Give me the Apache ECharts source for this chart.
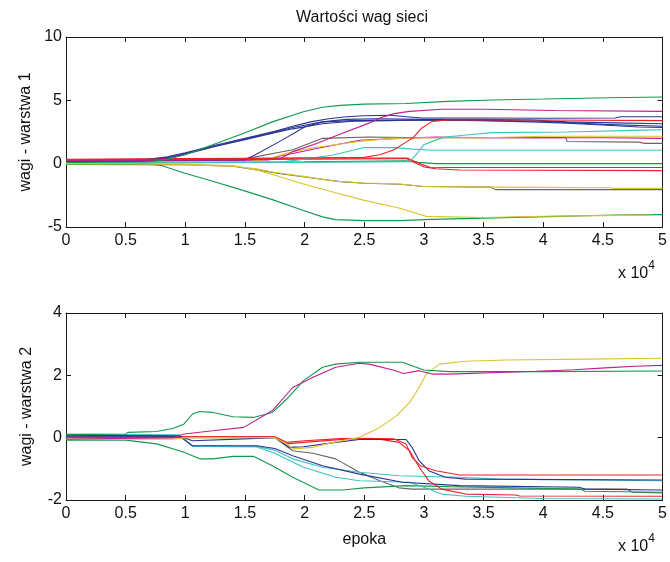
<!DOCTYPE html>
<html><head><meta charset="utf-8">
<script src="https://cdn.jsdelivr.net/npm/echarts/dist/echarts.min.js"></script>
<style>html,body{margin:0;padding:0;background:#fff}#c{width:670px;height:562px}</style>
</head><body><div id="c"></div>
<script>
// x values are in units of 10^4 epochs
const xRange = [0, 5, 0.5];
const y1Range = [-5, 10, 5];
const y2Range = [-2, 4, 2];

// ---- Layer 1 weights ----
const w1_greenUp = [[0,0.1],[0.7,0.15],[0.85,0.35],[1.0,0.7],[1.23,1.5],[1.49,2.4],[1.73,3.3],[1.99,4.1],[2.15,4.45],[2.3,4.6],[2.5,4.7],[2.85,4.75],[3.2,4.92],[3.57,5.03],[4.0,5.1],[4.55,5.2],[5,5.26]];
const w1_magentaUp = [[0,0.25],[1.5,0.3],[1.79,0.35],[1.9,0.95],[2.1,1.6],[2.29,2.3],[2.54,3.2],[2.63,3.6],[2.75,3.95],[2.88,4.13],[3.15,4.3],[3.5,4.3],[4.09,4.2],[5,4.13]];
const w1_blueA = [[0,0.2],[0.6,0.25],[0.85,0.55],[1.0,0.85],[1.25,1.45],[1.5,2.0],[1.75,2.55],[1.9,2.95],[2.05,3.3],[2.2,3.55],[2.35,3.7],[2.5,3.78],[2.71,3.82],[2.98,3.6],[3.5,3.6],[4.0,3.58],[4.6,3.6],[4.65,3.7],[5,3.7]];
const w1_blueB = [[0,0.15],[0.6,0.2],[0.85,0.5],[1.0,0.8],[1.25,1.4],[1.5,1.95],[1.75,2.5],[1.9,2.85],[2.15,3.3],[2.35,3.5],[2.6,3.55],[3.0,3.5],[3.5,3.5],[3.9,3.45],[4.2,3.3],[4.6,3.22],[5,3.15]];
const w1_blueC = [[0,0.18],[0.65,0.2],[0.85,0.45],[1.0,0.75],[1.25,1.35],[1.5,1.9],[1.75,2.45],[1.9,2.75],[2.15,3.15],[2.4,3.35],[2.7,3.4],[3.0,3.45],[3.5,3.4],[3.9,3.3],[4.2,3.2],[4.5,3.05],[4.8,2.9],[5,2.85]];
const w1_blueD = [[0,0.2],[1.5,0.3],[1.58,0.66],[1.8,1.8],[2.0,2.9],[2.15,3.3],[2.4,3.4],[3.0,3.45],[3.6,3.4],[4.0,3.35],[4.5,3.1],[5,2.95]];
const w1_redUp = [[0,0.3],[1.5,0.4],[2.0,0.45],[2.5,0.5],[2.63,0.7],[2.75,1.1],[2.85,1.7],[2.91,2.05],[2.98,2.8],[3.07,3.34],[3.2,3.45],[4.0,3.45],[5,3.4]];
const w1_cyanB = [[0,0.05],[2.0,0.1],[2.88,0.15],[2.95,0.9],[3.0,1.5],[3.08,1.8],[3.18,2.1],[3.4,2.3],[3.57,2.45],[4.2,2.5],[4.83,2.65],[5,2.68]];
const w1_yellowUp = [[0,0.0],[1.5,0.1],[1.7,0.4],[1.9,0.95],[2.1,1.3],[2.3,1.55],[2.5,1.8],[2.75,2.0],[3.0,2.05],[3.5,2.05],[4.0,2.16],[5,2.17]];
const w1_magentaB = [[0,0.15],[1.7,0.3],[1.79,0.58],[2.1,1.2],[2.46,1.85],[2.8,2.0],[3.1,2.1],[3.5,2.05],[4.5,2.05],[5,2.0]];
const w1_grayUp = [[0,0.1],[1.51,0.4],[1.9,1.1],[2.15,2.0],[2.54,2.1],[3.0,2.05],[4.19,2.05],[4.2,1.75],[4.8,1.7],[4.85,1.6],[5,1.6]];
const w1_cyanA = [[0,0.1],[1.8,0.12],[1.95,0.3],[2.23,0.66],[2.5,1.27],[2.76,1.27],[2.9,1.15],[3.08,1.06],[5,1.06]];
const w1_greenFlat = [[0,0.0],[1.0,0.1],[2.0,0.15],[2.85,0.22],[2.95,0.1],[3.1,0.0],[5,0.0]];
const w1_redDownA = [[0,0.35],[1.0,0.4],[2.0,0.45],[2.86,0.45],[2.92,0.2],[2.98,-0.05],[3.05,-0.28],[3.2,-0.3],[5,-0.3]];
const w1_redDownB = [[0,0.25],[2.85,0.4],[2.92,0.1],[3.0,-0.25],[3.1,-0.4],[3.3,-0.5],[5,-0.55]];
const w1_yellowMid = [[0,-0.05],[0.4,-0.1],[1.0,-0.1],[1.4,-0.2],[1.6,-0.4],[1.73,-0.66],[1.99,-1.0],[2.26,-1.39],[2.5,-1.53],[2.8,-1.6],[3.0,-1.8],[3.6,-1.85],[4.55,-1.9],[4.6,-1.95],[5,-1.95]];
const w1_grayMid = [[0,-0.05],[1.0,-0.08],[1.4,-0.2],[1.6,-0.5],[1.8,-0.8],[2.0,-1.05],[2.3,-1.42],[2.5,-1.55],[2.8,-1.62],[3.0,-1.8],[3.56,-1.85],[3.6,-2.05],[5,-2.05]];
const w1_greenDown = [[0,-0.05],[0.7,-0.05],[0.8,-0.15],[0.99,-0.74],[1.23,-1.39],[1.49,-2.13],[1.73,-2.84],[1.99,-3.7],[2.15,-4.2],[2.26,-4.42],[2.5,-4.5],[2.8,-4.5],[3.06,-4.4],[3.5,-4.3],[4.03,-4.18],[4.6,-4.05],[5,-4.02]];
const w1_yellowDown = [[0,0.0],[1.0,-0.05],[1.4,-0.15],[1.6,-0.5],[1.73,-0.85],[1.99,-1.6],[2.26,-2.3],[2.5,-2.9],[2.79,-3.5],[3.02,-4.16],[3.5,-4.25],[4.0,-4.15],[4.5,-4.1],[4.9,-4.05]];

// ---- Layer 2 weights ----
const w2_greenA = [[0,0.1],[0.5,0.12],[0.52,0.17],[0.76,0.2],[0.9,0.3],[0.99,0.44],[1.06,0.76],[1.12,0.84],[1.23,0.81],[1.4,0.67],[1.57,0.65],[1.73,0.81],[1.85,1.24],[1.99,1.83],[2.15,2.26],[2.26,2.36],[2.46,2.42],[2.82,2.42],[2.9,2.31],[3.0,2.17],[3.21,2.12],[4.0,2.12],[5,2.14]];
const w2_magenta = [[0,-0.05],[0.9,0.0],[0.99,0.12],[1.23,0.22],[1.49,0.33],[1.73,0.87],[1.9,1.61],[2.07,1.94],[2.26,2.26],[2.46,2.39],[2.54,2.36],[2.74,2.17],[2.83,2.06],[2.96,2.15],[3.07,2.04],[3.21,2.04],[3.94,2.13],[4.26,2.18],[4.52,2.24],[4.77,2.29],[5,2.32]];
const w2_yellow = [[0,-0.05],[0.9,-0.05],[1.0,0.0],[1.75,0.0],[1.85,-0.2],[1.9,-0.36],[2.07,-0.31],[2.24,-0.15],[2.46,0.01],[2.63,0.33],[2.77,0.7],[2.88,1.13],[2.96,1.61],[3.02,2.04],[3.13,2.36],[3.35,2.45],[3.69,2.49],[4.35,2.52],[5,2.55]];
const w2_redA = [[0,0.0],[0.95,0.0],[1.0,0.03],[1.75,0.03],[1.85,-0.2],[1.99,-0.15],[2.26,-0.07],[2.5,-0.02],[2.75,-0.04],[2.85,-0.2],[2.9,-0.63],[2.97,-0.9],[3.1,-1.06],[3.3,-1.2],[5,-1.2]];
const w2_redB = [[0,0.02],[1.0,0.03],[1.75,0.03],[1.85,-0.15],[2.0,-0.1],[2.3,-0.03],[2.6,-0.03],[2.79,-0.15],[2.88,-0.42],[2.96,-0.95],[3.04,-1.38],[3.15,-1.65],[3.35,-1.81],[3.77,-1.84],[3.8,-1.87],[5,-1.88]];
const w2_blueA = [[0,0.05],[0.95,0.05],[1.06,-0.1],[1.49,-0.04],[1.75,0.0],[1.87,-0.31],[1.99,-0.29],[2.26,-0.15],[2.46,-0.06],[2.85,-0.06],[2.9,-0.31],[2.96,-0.74],[3.04,-1.06],[3.18,-1.27],[3.35,-1.33],[5,-1.36]];
const w2_blueB = [[0,0.08],[0.95,0.05],[1.06,-0.26],[1.6,-0.26],[1.75,-0.35],[1.9,-0.58],[2.15,-0.9],[2.46,-1.17],[2.82,-1.43],[3.3,-1.54],[4.3,-1.59],[4.35,-1.65],[5,-1.68]];
const w2_gray = [[0,0.0],[1.0,0.0],[1.75,0.0],[1.9,-0.42],[2.07,-0.5],[2.26,-0.68],[2.46,-1.11],[2.63,-1.38],[2.79,-1.61],[2.9,-1.65],[4.7,-1.65],[4.75,-1.75],[5,-1.77]];
const w2_cyanA = [[0,0.1],[0.95,0.08],[1.06,-0.26],[1.6,-0.28],[1.75,-0.4],[1.9,-0.68],[2.15,-0.95],[2.46,-1.11],[2.79,-1.22],[3.3,-1.27],[3.63,-1.33],[5,-1.38]];
const w2_cyanB = [[0,0.12],[0.95,0.08],[1.06,-0.28],[1.6,-0.3],[1.75,-0.5],[1.99,-0.95],[2.26,-1.27],[2.46,-1.38],[2.88,-1.43],[3.0,-1.59],[3.15,-1.81],[3.35,-1.88],[4.0,-1.95],[5,-1.97]];
const w2_greenB = [[0,-0.08],[0.5,-0.08],[0.76,-0.2],[0.99,-0.47],[1.12,-0.68],[1.23,-0.68],[1.4,-0.6],[1.57,-0.6],[1.73,-0.9],[1.9,-1.27],[2.12,-1.68],[2.32,-1.68],[2.5,-1.61],[2.85,-1.54],[3.21,-1.57],[4.31,-1.65],[4.35,-1.72],[5,-1.75]];

const C = {green:'#119a4c', blue:'#2a3592', red:'#ec2228', cyan:'#3cc3c3', magenta:'#c01f92', yellow:'#d9c52c', gray:'#666666'};

const layer1 = [
  [w1_greenFlat,'green'],[w1_redDownA,'red'],[w1_redDownB,'red'],[w1_cyanA,'cyan'],[w1_grayUp,'gray'],
  [w1_magentaB,'magenta'],[w1_yellowUp,'yellow'],[w1_cyanB,'cyan'],[w1_blueD,'blue'],[w1_blueC,'blue'],
  [w1_blueB,'blue'],[w1_blueA,'blue'],[w1_redUp,'red'],[w1_magentaUp,'magenta'],[w1_greenUp,'green'],
  [w1_grayMid,'gray'],[w1_yellowMid,'yellow'],[w1_greenDown,'green'],[w1_yellowDown,'yellow']
];
const layer2 = [
  [w2_gray,'gray'],[w2_greenB,'green'],[w2_cyanA,'cyan'],[w2_cyanB,'cyan'],[w2_blueB,'blue'],
  [w2_redB,'red'],[w2_blueA,'blue'],[w2_redA,'red'],[w2_yellow,'yellow'],[w2_greenA,'green'],[w2_magenta,'magenta']
];

const FONT = 'Liberation Sans, Arial, sans-serif';
const FS = 16;
const axisLine = {show:true, onZero:false, lineStyle:{color:'#1a1a1a', width:1}};
const tick = {show:true, inside:true, length:5, lineStyle:{color:'#1a1a1a', width:1}};

function xAx(g, pos, labels, name) {
  return {gridIndex:g, type:'value', position:pos, min:xRange[0], max:xRange[1], interval:xRange[2],
    axisLine, axisTick:tick, splitLine:{show:false},
    axisLabel:{show:labels, color:'#111', fontSize:FS, fontFamily:FONT, margin:6},
    name: name||'', nameLocation:'middle', nameGap:32,
    nameTextStyle:{color:'#111', fontSize:FS, fontFamily:FONT}};
}
function yAx(g, pos, r, labels, name) {
  return {gridIndex:g, type:'value', position:pos, min:r[0], max:r[1], interval:r[2],
    axisLine, axisTick:tick, splitLine:{show:false},
    axisLabel:{show:labels, color:'#111', fontSize:FS, fontFamily:FONT, margin:4},
    name: name||'', nameLocation:'middle', nameGap:31, nameRotate:90,
    nameTextStyle:{color:'#111', fontSize:FS, fontFamily:FONT}};
}

const series = [];
layer1.forEach(([d,c]) => series.push({type:'line', xAxisIndex:0, yAxisIndex:0, data:d, showSymbol:false, symbol:'none',
  lineStyle:{color:C[c], width:1.1}, itemStyle:{color:C[c]}, animation:false, silent:true}));
layer2.forEach(([d,c]) => series.push({type:'line', xAxisIndex:2, yAxisIndex:2, data:d, showSymbol:false, symbol:'none',
  lineStyle:{color:C[c], width:1.1}, itemStyle:{color:C[c]}, animation:false, silent:true}));

function exp10(y) {
  return {type:'text', left:618, top:y, style:{text:'{a|x 10}{b|4}', rich:{
    a:{fontSize:16, fontFamily:FONT, fill:'#111', verticalAlign:'bottom', lineHeight:22, padding:[8,0,0,0]},
    b:{fontSize:12, fontFamily:FONT, fill:'#111', verticalAlign:'top', lineHeight:22}}}};
}

const chart = echarts.init(document.getElementById('c'), null, {renderer:'canvas'});
chart.setOption({
  animation:false,
  backgroundColor:'#fff',
  grid:[{left:66, top:37, width:599, height:190, show:false},
        {left:66, top:313, width:599, height:187, show:false}],
  xAxis:[xAx(0,'bottom',true), xAx(0,'top',false), xAx(1,'bottom',true,'epoka'), xAx(1,'top',false)],
  yAxis:[yAx(0,'left',y1Range,true,'wagi - warstwa 1'), yAx(0,'right',y1Range,false),
         yAx(1,'left',y2Range,true,'wagi - warstwa 2'), yAx(1,'right',y2Range,false)],
  series,
  graphic:[
    {type:'text', x:362, y:18, style:{text:'Wartości wag sieci', fontSize:16, fontFamily:FONT, fill:'#111', textAlign:'center', textVerticalAlign:'middle'}},
    exp10(258), exp10(531)
  ]
});
</script></body></html>
